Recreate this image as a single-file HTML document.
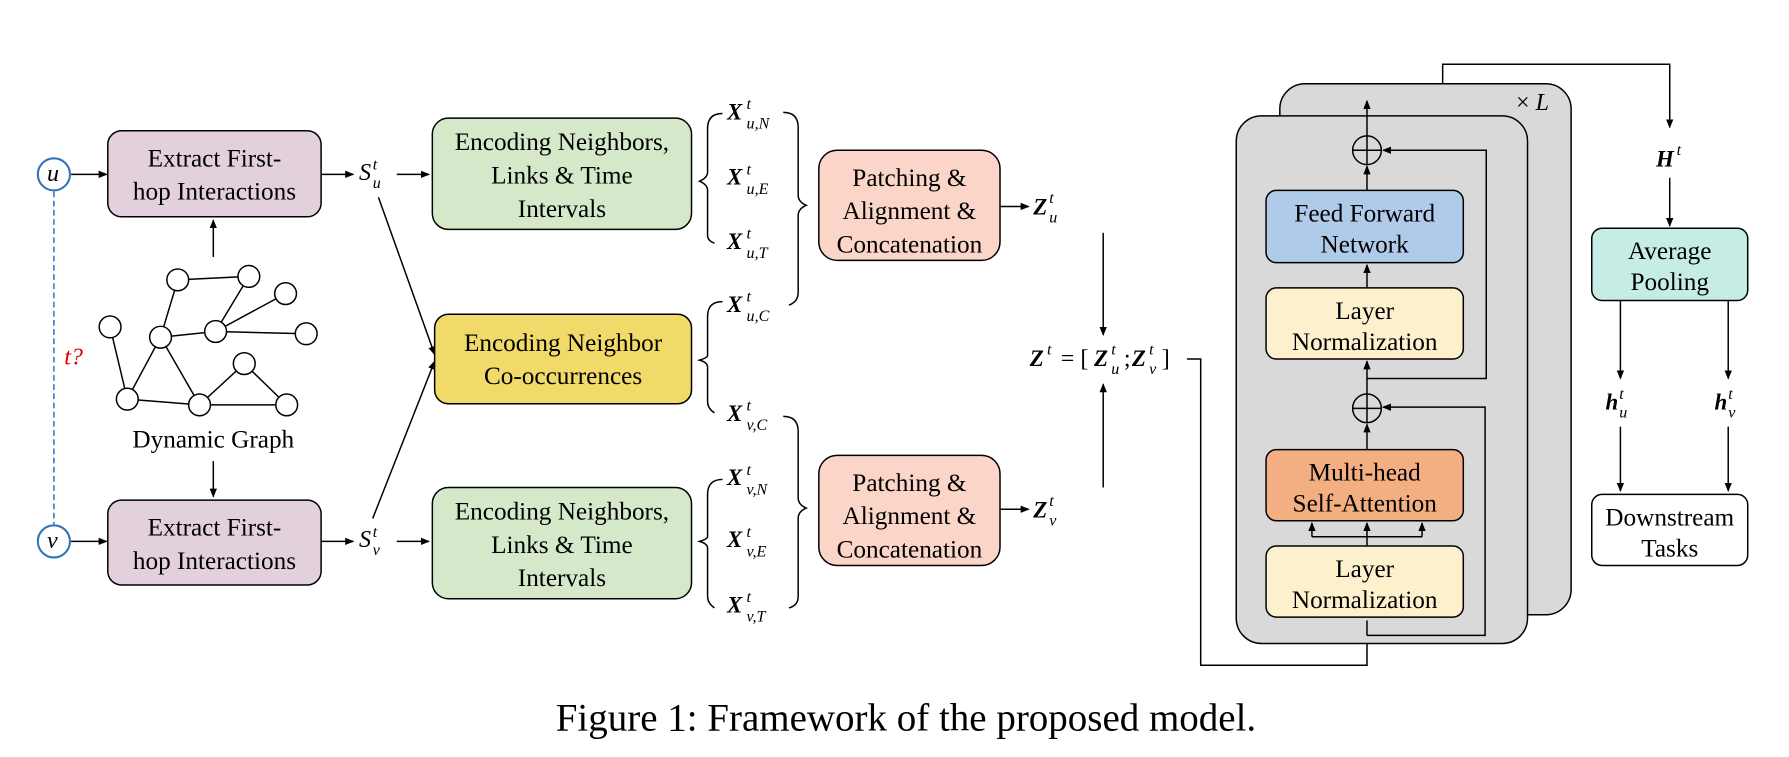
<!DOCTYPE html>
<html><head><meta charset="utf-8"><style>
html,body{margin:0;padding:0;background:#fff;}
svg{display:block;}
text{font-family:"Liberation Serif",serif;fill:#000;}
.b{font-size:22px;text-anchor:middle;}
.m{font-style:italic;font-weight:bold;font-size:20px;}
.s{font-style:italic;font-size:14px;}
</style></head><body>
<svg width="1789" height="757" viewBox="0 0 1560 660" preserveAspectRatio="none" xmlns="http://www.w3.org/2000/svg">
<defs>
<marker id="a" markerWidth="8" markerHeight="8" refX="7" refY="4" orient="auto" markerUnits="userSpaceOnUse"><path d="M0,0.8 L8,4 L0,7.2z" fill="#000"/></marker>
</defs>
<g stroke="#000" stroke-width="1.3" fill="none">
<circle cx="47" cy="152" r="14" stroke="#2f75b5" stroke-width="1.8" fill="#fff"/>
<circle cx="47" cy="472" r="14" stroke="#2f75b5" stroke-width="1.8" fill="#fff"/>
<line x1="47" y1="167" x2="47" y2="457" stroke="#2f75b5" stroke-dasharray="5,3"/>
<line x1="62" y1="152" x2="93" y2="152" marker-end="url(#a)"/>
<line x1="62" y1="472" x2="93" y2="472" marker-end="url(#a)"/>
<rect x="94" y="114" width="186" height="75" rx="12" fill="#e2d0dc"/>
<rect x="94" y="436" width="186" height="74" rx="12" fill="#e2d0dc"/>
<line x1="186" y1="224" x2="186" y2="192" marker-end="url(#a)"/>
<line x1="186" y1="402" x2="186" y2="433" marker-end="url(#a)"/>
<line x1="280" y1="152" x2="308" y2="152" marker-end="url(#a)"/>
<line x1="280" y1="472" x2="308" y2="472" marker-end="url(#a)"/>
<line x1="346" y1="152" x2="374" y2="152" marker-end="url(#a)"/>
<line x1="346" y1="472" x2="374" y2="472" marker-end="url(#a)"/>
<line x1="330" y1="172" x2="379" y2="309" marker-end="url(#a)"/>
<line x1="325" y1="452" x2="379" y2="315" marker-end="url(#a)"/>
<path d="M155,244 L217,241 M155,244 L140,294 M217,241 L188,289 M249,256 L188,289 M188,289 L267,291 M140,294 L188,289 M96,285 L111,348 M111,348 L140,294 M140,294 L174,353 M111,348 L174,353 M174,353 L213,317 M213,317 L250,353 M174,353 L250,353"/>
<g fill="#fff">
<circle cx="155" cy="244" r="9.5"/><circle cx="217" cy="241" r="9.5"/><circle cx="249" cy="256" r="9.5"/>
<circle cx="96" cy="285" r="9.5"/><circle cx="140" cy="294" r="9.5"/><circle cx="188" cy="289" r="9.5"/>
<circle cx="267" cy="291" r="9.5"/><circle cx="213" cy="317" r="9.5"/><circle cx="111" cy="348" r="9.5"/>
<circle cx="174" cy="353" r="9.5"/><circle cx="250" cy="353" r="9.5"/>
</g>
<rect x="377" y="103" width="226" height="97" rx="14" fill="#d6e8ca"/>
<rect x="377" y="425" width="226" height="97" rx="14" fill="#d6e8ca"/>
<rect x="379" y="274" width="224" height="78" rx="12" fill="#f1da6a"/>
<path d="M630,99 Q617,99 617,112 L617,150 Q617,155 610,158 Q617,161 617,166 L617,205 Q617,210 623,212"/>
<path d="M630,263 Q617,263 617,276 L617,310 Q617,312 610,314 Q617,316 617,320 L617,350 Q617,356 623,360"/>
<path d="M630,418 Q617,418 617,431 L617,468 Q617,470 610,472 Q617,474 617,478 L617,520 Q617,526 623,530"/>
<path d="M683,98 Q696,98 696,111 L696,170 Q696,176 703,179 Q696,182 696,188 L696,255 Q696,263 688,266"/>
<path d="M683,363 Q696,363 696,376 L696,434 Q696,440 703,443 Q696,446 696,452 L696,520 Q696,528 688,530"/>
<rect x="714" y="131" width="158" height="96" rx="16" fill="#fbd5c7"/>
<rect x="714" y="397" width="158" height="96" rx="16" fill="#fbd5c7"/>
<line x1="872" y1="180" x2="897" y2="180" marker-end="url(#a)"/>
<line x1="872" y1="444" x2="897" y2="444" marker-end="url(#a)"/>
<line x1="962" y1="203" x2="962" y2="292" marker-end="url(#a)"/>
<line x1="962" y1="425" x2="962" y2="335" marker-end="url(#a)"/>
<path d="M1035,313 L1047,313 L1047,580 L1192,580 L1192,541" marker-end="url(#a)"/>
<rect x="1116" y="73" width="254" height="463" rx="22" fill="#d9d9d9"/>
<rect x="1078" y="101" width="254" height="460" rx="22" fill="#d9d9d9"/>
<path d="M1258,73 L1258,56 L1456,56 L1456,111" marker-end="url(#a)"/>
<rect x="1104" y="166" width="172" height="63" rx="9" fill="#afcbe9"/>
<rect x="1104" y="251" width="172" height="62" rx="9" fill="#fdf0cd"/>
<rect x="1104" y="392" width="172" height="62" rx="9" fill="#f3ae82"/>
<rect x="1104" y="476" width="172" height="62" rx="9" fill="#fdf0cd"/>
<circle cx="1192" cy="131" r="12.5"/><line x1="1179.5" y1="131" x2="1204.5" y2="131"/>
<circle cx="1192" cy="356" r="12.5"/><line x1="1179.5" y1="356" x2="1204.5" y2="356"/>
<line x1="1192" y1="166" x2="1192" y2="145" marker-end="url(#a)"/>
<line x1="1192" y1="144" x2="1192" y2="118"/>
<line x1="1192" y1="118" x2="1192" y2="88" marker-end="url(#a)"/>
<line x1="1192" y1="251" x2="1192" y2="231" marker-end="url(#a)"/>
<line x1="1192" y1="330" x2="1192" y2="315" marker-end="url(#a)"/>
<line x1="1192" y1="392" x2="1192" y2="370" marker-end="url(#a)"/>
<line x1="1192" y1="368" x2="1192" y2="330"/>
<path d="M1192,330 L1296,330 L1296,131 L1206,131" marker-end="url(#a)"/>
<path d="M1192,554 L1295,554 L1295,355 L1206,355" marker-end="url(#a)"/>
<line x1="1192" y1="554" x2="1192" y2="541"/>
<line x1="1192" y1="476" x2="1192" y2="456" marker-end="url(#a)"/>
<path d="M1144,468 L1240,468"/>
<line x1="1144" y1="468" x2="1144" y2="456" marker-end="url(#a)"/>
<line x1="1240" y1="468" x2="1240" y2="456" marker-end="url(#a)"/>
<line x1="1456" y1="155" x2="1456" y2="197" marker-end="url(#a)"/>
<rect x="1388" y="199" width="136" height="63" rx="9" fill="#c6ece6"/>
<line x1="1413" y1="262" x2="1413" y2="330" marker-end="url(#a)"/>
<line x1="1507" y1="262" x2="1507" y2="330" marker-end="url(#a)"/>
<line x1="1413" y1="372" x2="1413" y2="428" marker-end="url(#a)"/>
<line x1="1507" y1="372" x2="1507" y2="428" marker-end="url(#a)"/>
<rect x="1388" y="431" width="136" height="62" rx="9" fill="#fff"/>
</g>
<text x="41" y="158" class="s" style="font-size:21px">u</text>
<text x="41" y="478" class="s" style="font-size:21px">v</text>
<text x="56" y="318" style="font-style:italic;font-size:21px;fill:#e00000">t?</text>
<text class="b" x="187" y="145">Extract First-</text>
<text class="b" x="187" y="174">hop Interactions</text>
<text class="b" x="187" y="467">Extract First-</text>
<text class="b" x="187" y="496">hop Interactions</text>
<text class="b" x="186" y="390">Dynamic Graph</text>
<text x="313" y="157" style="font-style:italic;font-size:21px">S</text><text x="325" y="148" class="s">t</text><text x="325" y="164" class="s">u</text>
<text x="313" y="477" style="font-style:italic;font-size:21px">S</text><text x="325" y="468" class="s">t</text><text x="325" y="484" class="s">v</text>
<text class="b" x="490" y="131">Encoding Neighbors,</text>
<text class="b" x="490" y="160">Links &amp; Time</text>
<text class="b" x="490" y="189">Intervals</text>
<text class="b" x="490" y="453">Encoding Neighbors,</text>
<text class="b" x="490" y="482">Links &amp; Time</text>
<text class="b" x="490" y="511">Intervals</text>
<text class="b" x="491" y="306">Encoding Neighbor</text>
<text class="b" x="491" y="335">Co-occurrences</text>
<g>
<text class="m" x="634" y="104">X</text><text class="s" x="651" y="95">t</text><text class="s" x="651" y="112">u,N</text>
<text class="m" x="634" y="161">X</text><text class="s" x="651" y="152">t</text><text class="s" x="651" y="169">u,E</text>
<text class="m" x="634" y="217">X</text><text class="s" x="651" y="208">t</text><text class="s" x="651" y="225">u,T</text>
<text class="m" x="634" y="272">X</text><text class="s" x="651" y="263">t</text><text class="s" x="651" y="280">u,C</text>
<text class="m" x="634" y="367">X</text><text class="s" x="651" y="358">t</text><text class="s" x="651" y="375">v,C</text>
<text class="m" x="634" y="423">X</text><text class="s" x="651" y="414">t</text><text class="s" x="651" y="431">v,N</text>
<text class="m" x="634" y="477">X</text><text class="s" x="651" y="468">t</text><text class="s" x="651" y="485">v,E</text>
<text class="m" x="634" y="534">X</text><text class="s" x="651" y="525">t</text><text class="s" x="651" y="542">v,T</text>
</g>
<text class="b" x="793" y="162">Patching &amp;</text>
<text class="b" x="793" y="191">Alignment &amp;</text>
<text class="b" x="793" y="220">Concatenation</text>
<text class="b" x="793" y="428">Patching &amp;</text>
<text class="b" x="793" y="457">Alignment &amp;</text>
<text class="b" x="793" y="486">Concatenation</text>
<text class="m" x="901" y="187">Z</text><text class="s" x="915" y="177">t</text><text class="s" x="915" y="194">u</text>
<text class="m" x="901" y="451">Z</text><text class="s" x="915" y="441">t</text><text class="s" x="915" y="458">v</text>
<text class="m" x="898" y="319">Z</text><text class="s" x="913" y="309">t</text>
<text x="925" y="319" style="font-size:21px">= [</text>
<text class="m" x="954" y="319">Z</text><text class="s" x="969" y="309">t</text><text class="s" x="969" y="326">u</text>
<text x="980" y="319" style="font-size:21px">;</text>
<text class="m" x="987" y="319">Z</text><text class="s" x="1002" y="309">t</text><text class="s" x="1002" y="326">v</text>
<text x="1013" y="319" style="font-size:21px">]</text>
<text x="1322" y="96" style="font-size:21px">× <tspan font-style="italic">L</tspan></text>
<text class="b" x="1190" y="193">Feed Forward</text>
<text class="b" x="1190" y="220">Network</text>
<text class="b" x="1190" y="278">Layer</text>
<text class="b" x="1190" y="305">Normalization</text>
<text class="b" x="1190" y="419">Multi-head</text>
<text class="b" x="1190" y="446">Self-Attention</text>
<text class="b" x="1190" y="503">Layer</text>
<text class="b" x="1190" y="530">Normalization</text>
<text class="m" x="1444" y="145">H</text><text class="s" x="1462" y="135">t</text>
<text class="b" x="1456" y="226">Average</text>
<text class="b" x="1456" y="253">Pooling</text>
<text class="m" x="1400" y="357">h</text><text class="s" x="1412" y="348">t</text><text class="s" x="1412" y="364">u</text>
<text class="m" x="1495" y="357">h</text><text class="s" x="1507" y="348">t</text><text class="s" x="1507" y="364">v</text>
<text class="b" x="1456" y="458">Downstream</text>
<text class="b" x="1456" y="485">Tasks</text>
<text x="790" y="637" style="font-size:34px;text-anchor:middle">Figure 1: Framework of the proposed model.</text>
</svg>
</body></html>
